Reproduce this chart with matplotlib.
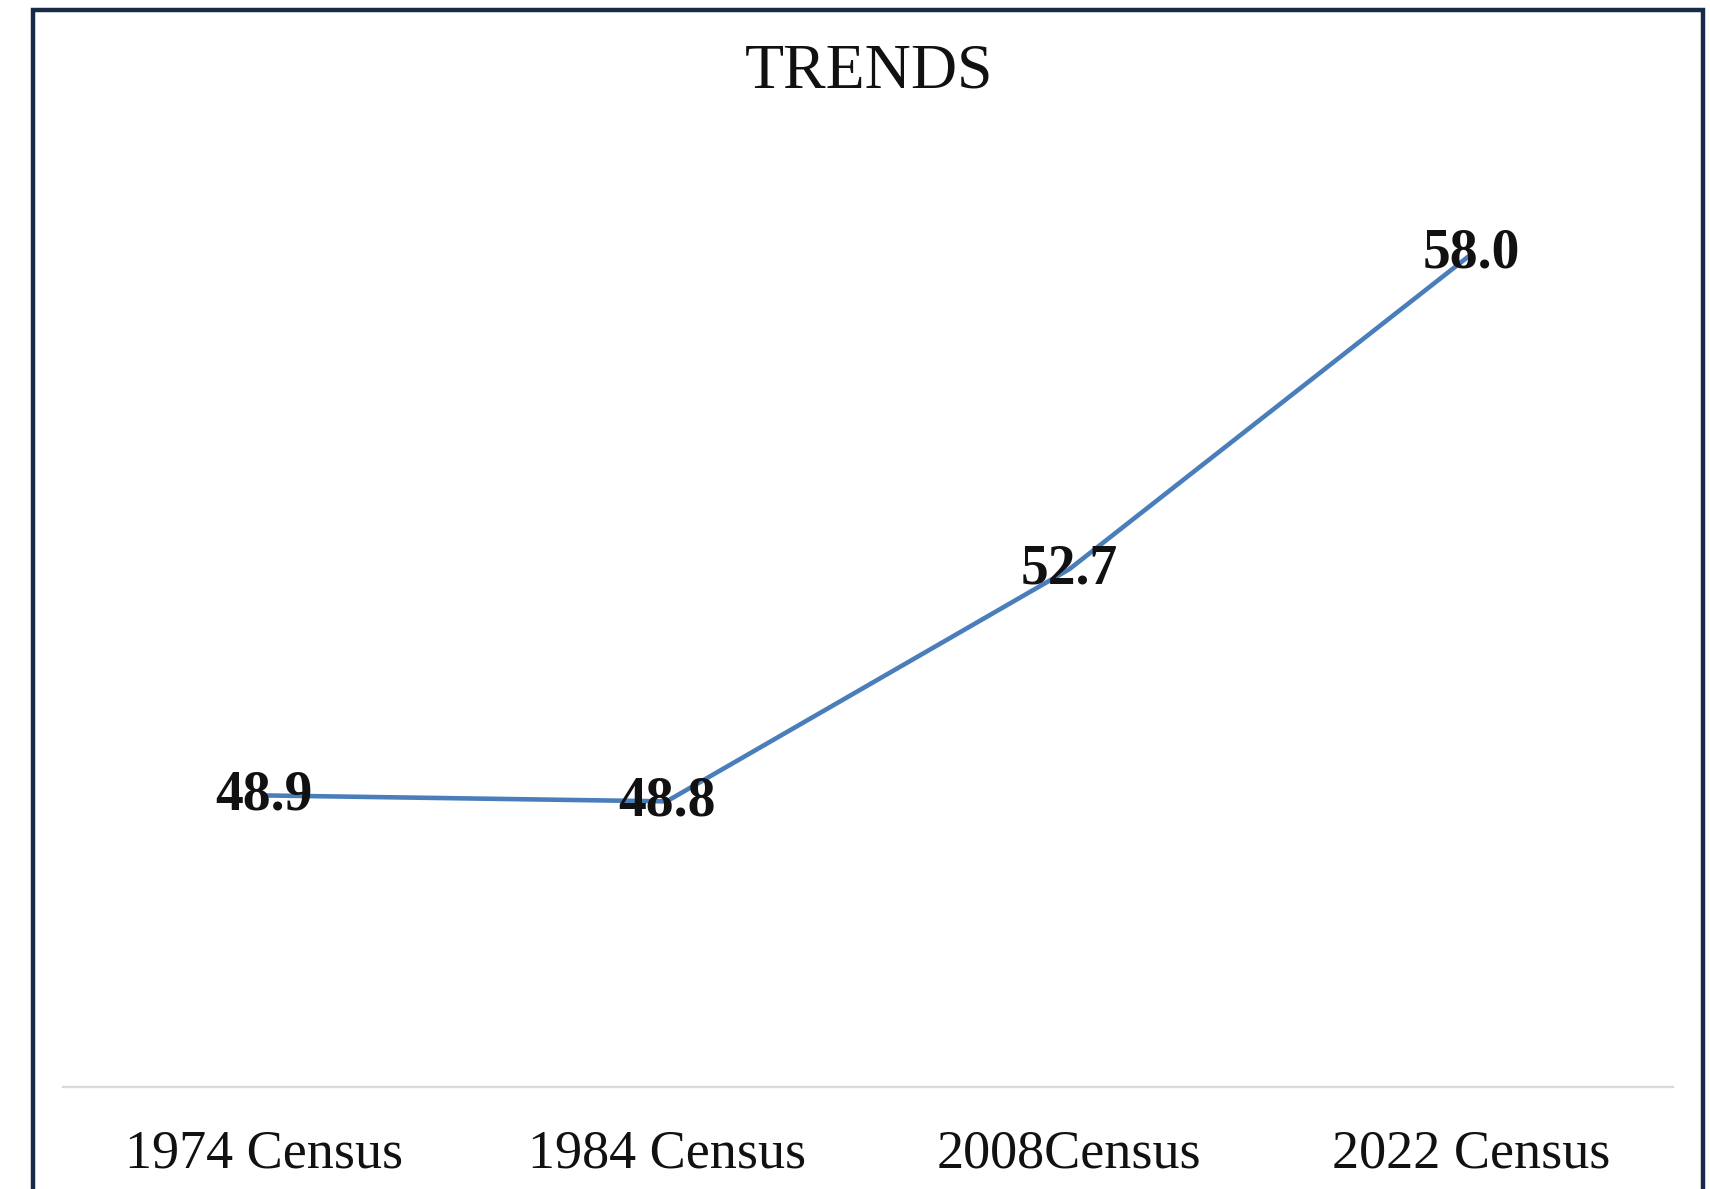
import matplotlib
matplotlib.use("Agg")
import matplotlib.pyplot as plt
from matplotlib.patches import Rectangle

categories = ["1974 Census", "1984 Census", "2008Census", "2022 Census"]
values = [48.9, 48.8, 52.7, 58.0]
value_labels = ["48.9", "48.8", "52.7", "58.0"]

plt.rcParams["font.family"] = ["Liberation Serif", "DejaVu Serif"]

fig = plt.figure(figsize=(17.1, 11.89), dpi=100)
ax = fig.add_axes([0.0368, 0.0858, 0.9415, 0.8007])

x = list(range(len(categories)))
ax.plot(x, values, color="#4a7ebb", linewidth=3.3, solid_capstyle="butt")

for xi, v, lab in zip(x, values, value_labels):
    ax.text(xi, v, lab, ha="center", va="center", fontsize=40,
            fontweight="bold", color="#111111")

ax.set_xlim(-0.5, len(categories) - 0.5)
ax.set_ylim(44, 60)
ax.set_xticks(x)
ax.set_xticklabels(categories, fontsize=39, color="#111111")
ax.tick_params(axis="x", length=0, pad=30)
ax.set_yticks([])
for side in ["top", "left", "right"]:
    ax.spines[side].set_visible(False)
ax.spines["bottom"].set_color("#d9d9d9")
ax.spines["bottom"].set_linewidth(1.6)

fig.text(0.508, 0.939, "TRENDS", ha="center", va="center", fontsize=46,
         color="#111111")

# dark frame around the chart (bottom edge cropped off)
frame = Rectangle((33 / 1710, -0.05), (1703 - 33) / 1710, 1.05 - 10 / 1189,
                  transform=fig.transFigure, fill=False,
                  edgecolor="#172a48", linewidth=3.2, clip_on=False)
fig.patches.append(frame)

fig.savefig("out.png", dpi=100, facecolor="white")
